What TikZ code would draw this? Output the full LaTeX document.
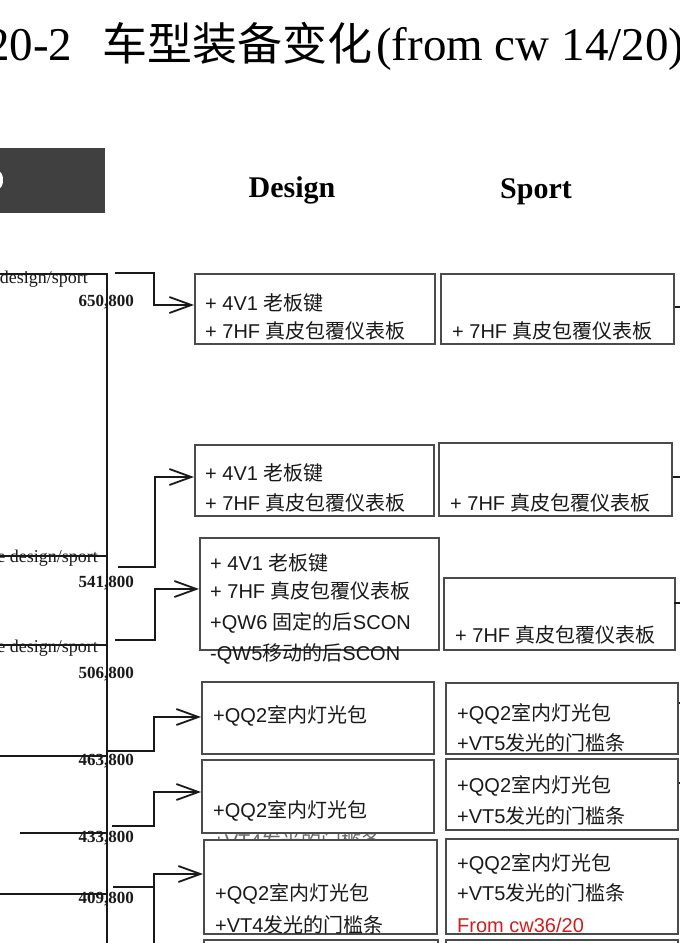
\documentclass[tikz,border=0pt]{standalone}
\usepackage{fontspec}
\setmainfont{Liberation Serif}
\newfontfamily\sansf{Liberation Sans}
\newfontfamily\cjk{Noto Sans CJK SC}
\usetikzlibrary{arrows.meta}
\newcommand\zh[1]{{\cjk #1}}
\definecolor{boxgray}{RGB}{75,75,75}
\definecolor{darkbox}{RGB}{64,64,64}
\definecolor{redt}{RGB}{210,30,30}
\definecolor{inkc}{RGB}{25,25,25}
\begin{document}
\begin{tikzpicture}[x=1pt,y=-1pt,
  box/.style={draw=boxgray, line width=2.2pt, anchor=north west, inner sep=0, fill=white},
  txt/.style={anchor=base west, inner sep=0, font=\sansf\fontsize{20}{24}\selectfont, text=inkc},
  lbl/.style={anchor=base east, inner sep=0, font=\fontsize{18}{20}\selectfont, text=inkc},
  num/.style={anchor=base east, inner sep=0, font=\bfseries\fontsize{17}{20}\selectfont, text=inkc},
  head/.style={anchor=base, inner sep=0, font=\bfseries\fontsize{30}{34}\selectfont},
  ln/.style={line width=1.8pt, draw=inkc},
  arr/.style={ln, -{Straight Barb[length=22pt,width=16pt,line width=1.8pt]}},
]
\useasboundingbox (0,0) rectangle (680,943);
\clip (0,0) rectangle (680,943);
\fill[white] (0,0) rectangle (680,943);

% title
\node[anchor=base west, inner sep=0, font=\fontsize{47}{50}\selectfont] (t1) at (-14,60) {20-2};
\node[anchor=base west, inner sep=0, font=\cjk\fontsize{45}{50}\selectfont] (t2) at (102,60) {车型装备变化};
\node[anchor=base west, inner sep=0, font=\fontsize{47}{50}\selectfont] (t3) at (376,60) {(from cw 14/20)};

% dark header box
\fill[darkbox] (0,148) rectangle (105,213);
\fill[white] (0,172) .. controls (4,174) and (4,186) .. (0,188) -- cycle;

\node[head] (hd) at (292,197) {Design};
\node[head] (hs) at (536,198) {Sport};

% left tree lines
\coordinate (l0) at (0,274);
\coordinate (v0) at (107,274);
\coordinate (vb) at (107,943);
\draw[ln] (l0) -- (v0) -- (vb);
\coordinate (l2) at (0,556);  \coordinate (m2) at (107,556);
\coordinate (l3) at (0,645);  \coordinate (m3) at (107,645);
\coordinate (l4) at (0,756);  \coordinate (m4) at (107,756);
\coordinate (l5) at (20,833); \coordinate (m5) at (107,833);
\coordinate (l6) at (0,894);  \coordinate (m6) at (107,894);
\draw[ln] (l2) -- (m2);
\draw[ln] (l3) -- (m3);
\draw[ln] (l4) -- (m4);
\draw[ln] (l5) -- (m5);
\draw[ln] (l6) -- (m6);

% hidden overflow text under D5
\node[txt, text=black!60] (d5h) at (213,848) {+VT4\zh{发光的门槛条}};

% boxes
\node[box, minimum width=240pt, minimum height=70pt] (d1) at (194,273) {};
\node[box, minimum width=233pt, minimum height=70pt] (s1) at (440,273) {};
\node[box, minimum width=239pt, minimum height=71pt] (d2) at (194,444) {};
\node[box, minimum width=233pt, minimum height=73pt] (s2) at (438,442) {};
\node[box, minimum width=239pt, minimum height=112pt] (d3) at (199,537) {};
\node[box, minimum width=231pt, minimum height=72pt] (s3) at (443,577) {};
\node[box, minimum width=232pt, minimum height=72pt] (d4) at (201,681) {};
\node[box, minimum width=232pt, minimum height=71pt] (s4) at (445,682) {};
\node[box, minimum width=232pt, minimum height=73pt] (d5) at (201,759) {};
\node[box, minimum width=232pt, minimum height=71pt] (s5) at (445,758) {};
\node[box, minimum width=233pt, minimum height=94pt] (d6) at (203,839) {};
\node[box, minimum width=232pt, minimum height=95pt] (s6) at (445,838) {};
\node[box, minimum width=234pt, minimum height=30pt] (d7) at (203,939) {};
\node[box, minimum width=232pt, minimum height=30pt] (s7) at (445,939) {};

% right stubs
\coordinate (r1) at (680,307); \coordinate (r2) at (680,477);
\coordinate (r3a) at (674,603); \coordinate (r3) at (680,603);
\coordinate (r4) at (680,703); \coordinate (r5) at (680,783);
\draw[ln] (s1.east |- r1) -- (r1);
\draw[ln] (s2.east |- r2) -- (r2);
\draw[ln] (r3a) -- (r3);
\draw[ln] (s4.east |- r4) -- (r4);
\draw[ln] (s5.east |- r5) -- (r5);

% arrows
\coordinate (a1) at (115,273); \coordinate (k1) at (154,305);
\coordinate (a2) at (118,567); \coordinate (k2) at (155,477);
\coordinate (a3) at (115,640); \coordinate (k3) at (155,589);
\coordinate (a4) at (107,751); \coordinate (k4) at (154,717);
\coordinate (a5) at (112,826); \coordinate (k5) at (154,792);
\coordinate (a6) at (113,887); \coordinate (k6) at (154,874);
\coordinate (kb) at (154,943);
\draw[arr] (a1) -| (k1) -- (k1 -| d1.west);
\draw[arr] (a2) -| (k2) -- (k2 -| d2.west);
\draw[arr] (a3) -| (k3) -- (k3 -| d3.west);
\draw[arr] (a4) -| (k4) -- (k4 -| d4.west);
\draw[arr] (a5) -| (k5) -- (k5 -| d5.west);
\draw[arr] (a6) -| (k6) -- (k6 -| d6.west);
\draw[ln] (k6) -- (kb);

% left labels
\node[lbl] (g1) at (88,283) {design/sport};
\node[lbl] (g2) at (98,562) {e design/sport};
\node[lbl] (g3) at (98,652) {e design/sport};
\node[num] (n1) at (134,306) {650,800};
\node[num] (n2) at (134,587) {541,800};
\node[num] (n3) at (134,678) {506,800};
\node[num] (n4) at (134,765) {463,800};
\node[num] (n5) at (134,842) {433,800};
\node[num] (n6) at (134,903) {409,800};

% box texts
\node[txt] (d1a) at (205,310) {+ 4V1 \zh{老板键}};
\node[txt] (d1b) at (205,338) {+ 7HF \zh{真皮包覆仪表板}};
\node[txt] (s1a) at (452,338) {+ 7HF \zh{真皮包覆仪表板}};
\node[txt] (d2a) at (205,480) {+ 4V1 \zh{老板键}};
\node[txt] (d2b) at (205,510) {+ 7HF \zh{真皮包覆仪表板}};
\node[txt] (s2a) at (450,510) {+ 7HF \zh{真皮包覆仪表板}};
\node[txt] (d3a) at (210,570) {+ 4V1 \zh{老板键}};
\node[txt] (d3b) at (210,598) {+ 7HF \zh{真皮包覆仪表板}};
\node[txt] (d3c) at (210,629) {+QW6 \zh{固定的后}SCON};
\node[txt] (d3d) at (210,660) {-QW5\zh{移动的后}SCON};
\node[txt] (s3a) at (455,642) {+ 7HF \zh{真皮包覆仪表板}};
\node[txt] (d4a) at (213,722) {+QQ2\zh{室内灯光包}};
\node[txt] (s4a) at (457,720) {+QQ2\zh{室内灯光包}};
\node[txt] (s4b) at (457,750) {+VT5\zh{发光的门槛条}};
\node[txt] (d5a) at (213,817) {+QQ2\zh{室内灯光包}};
\node[txt] (s5a) at (457,792) {+QQ2\zh{室内灯光包}};
\node[txt] (s5b) at (457,823) {+VT5\zh{发光的门槛条}};
\node[txt] (d6a) at (215,900) {+QQ2\zh{室内灯光包}};
\node[txt] (d6b) at (215,932) {+VT4\zh{发光的门槛条}};
\node[txt] (s6a) at (457,870) {+QQ2\zh{室内灯光包}};
\node[txt] (s6b) at (457,900) {+VT5\zh{发光的门槛条}};
\node[txt, text=redt] (s6c) at (457,932) {From cw36/20};
\end{tikzpicture}
\end{document}
